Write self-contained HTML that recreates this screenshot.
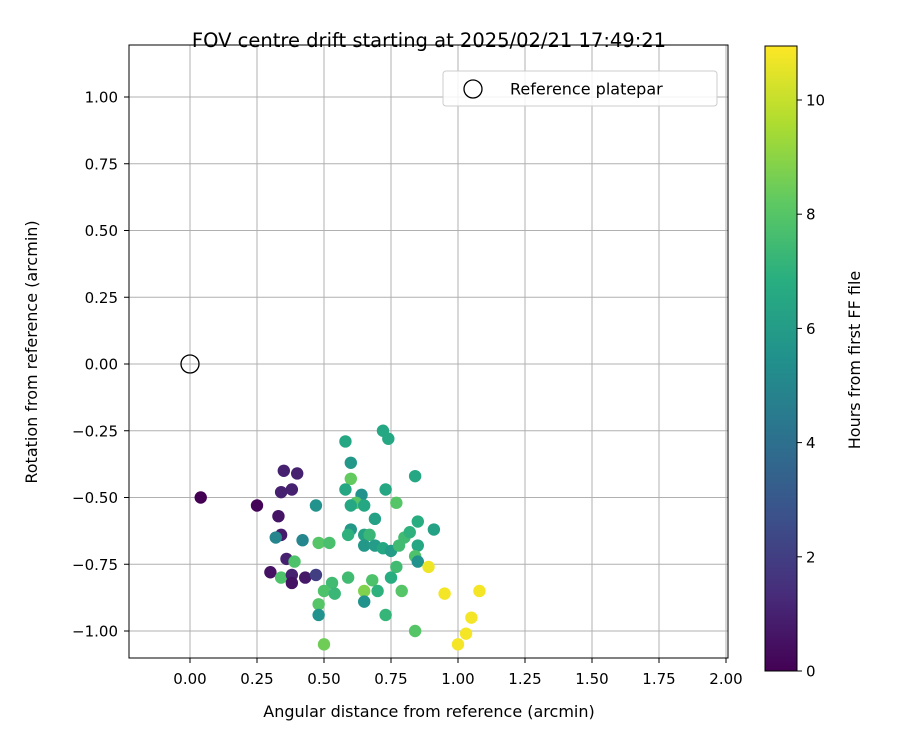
<!DOCTYPE html>
<html><head><meta charset="utf-8"><style>
body{margin:0;background:#fff;font-family:"Liberation Sans","DejaVu Sans",sans-serif}
</style></head><body>
<svg width="900" height="750" xmlns="http://www.w3.org/2000/svg" font-family="'DejaVu Sans','Liberation Sans',sans-serif">
<defs>
<linearGradient id="vir" x1="0" y1="1" x2="0" y2="0">
<stop offset="0" stop-color="#440154"/><stop offset="0.125" stop-color="#472d7b"/><stop offset="0.25" stop-color="#3b528b"/><stop offset="0.375" stop-color="#2c728e"/><stop offset="0.5" stop-color="#21918c"/><stop offset="0.625" stop-color="#28ae80"/><stop offset="0.75" stop-color="#5ec962"/><stop offset="0.875" stop-color="#addc30"/><stop offset="1" stop-color="#fde725"/>
</linearGradient>
</defs>
<g id="grid"></g>
<g id="pts"></g>
<rect x="129" y="45" width="599" height="613" fill="none" stroke="#000" stroke-width="1"/>
<g id="ticks"></g>
<text x="429" y="47" font-size="19.5" text-anchor="middle">FOV centre drift starting at 2025/02/21 17:49:21</text>
<text x="429" y="717" font-size="16" text-anchor="middle">Angular distance from reference (arcmin)</text>
<text transform="translate(37,352) rotate(-90)" font-size="16" text-anchor="middle">Rotation from reference (arcmin)</text>
<g>
<rect x="443" y="71" width="274" height="35" rx="3" fill="#fff" fill-opacity="0.85" stroke="#ccc"/>
<circle cx="473" cy="89" r="9" fill="none" stroke="#000" stroke-width="1.3"/>
<text x="510" y="94.5" font-size="16">Reference platepar</text>
</g>
<rect x="765" y="46" width="32" height="625" fill="url(#vir)" stroke="#000" stroke-width="1"/>
<g id="cbt"></g>
<text transform="translate(860,360) rotate(-90)" font-size="16" text-anchor="middle">Hours from first FF file</text>
</svg>
<script>
const xs=[0.04,0.25,0.35,0.40,0.34,0.38,0.33,0.34,0.32,0.47,0.42,0.48,0.52,0.36,0.39,0.30,0.34,0.38,0.38,0.43,0.47,0.53,0.50,0.54,0.48,0.48,0.50,0.58,0.60,0.60,0.58,0.64,0.62,0.65,0.60,0.72,0.74,0.73,0.77,0.84,0.69,0.85,0.91,0.60,0.59,0.65,0.67,0.65,0.69,0.72,0.75,0.78,0.80,0.82,0.85,0.84,0.85,0.89,0.77,0.75,0.59,0.68,0.70,0.65,0.65,0.79,0.73,0.84,0.95,1.08,1.05,1.03,1.00];
const ys=[-0.50,-0.53,-0.40,-0.41,-0.48,-0.47,-0.57,-0.64,-0.65,-0.53,-0.66,-0.67,-0.67,-0.73,-0.74,-0.78,-0.80,-0.79,-0.82,-0.80,-0.79,-0.82,-0.85,-0.86,-0.90,-0.94,-1.05,-0.29,-0.37,-0.43,-0.47,-0.49,-0.52,-0.53,-0.53,-0.25,-0.28,-0.47,-0.52,-0.42,-0.58,-0.59,-0.62,-0.62,-0.64,-0.64,-0.64,-0.68,-0.68,-0.69,-0.70,-0.68,-0.65,-0.63,-0.68,-0.72,-0.74,-0.76,-0.76,-0.80,-0.80,-0.81,-0.85,-0.85,-0.89,-0.85,-0.94,-1.00,-0.86,-0.85,-0.95,-1.01,-1.05];
const hours=[0,0.1,1,1,1,1,0.6,0.8,5,5.5,5,8,7.7,1,7.8,0.5,7.8,1,0.5,0.7,2,7.5,7.8,7.3,8,5.5,8.5,6.5,5.8,8.3,6.5,5.5,8,6.5,6.5,6.5,6.5,6.5,8,6.5,6.3,6.8,6.3,5.8,7,6.3,7.3,5.8,6,6.5,6,7.5,7.5,7,6.5,7.8,5.5,10.7,7.5,6.8,7.5,7.8,7,8.8,5.5,8,7.2,8,10.8,10.8,10.8,10.8,10.8];
const xTicks=[0,0.25,0.5,0.75,1,1.25,1.5,1.75,2];
const yTicks=[1,0.75,0.5,0.25,0,-0.25,-0.5,-0.75,-1];
const cbTicks=[0,2,4,6,8,10];
const NS="http://www.w3.org/2000/svg";
const X=v=>190+v*268, Y=v=>364-v*267, C=v=>671-v*57.1;
const stops=["#440154","#472d7b","#3b528b","#2c728e","#21918c","#28ae80","#5ec962","#addc30","#fde725"];
function hex(h){return [1,3,5].map(i=>parseInt(h.substr(i,2),16));}
function vir(t){t=Math.max(0,Math.min(1,t))*8;const i=Math.min(7,Math.floor(t)),f=t-i;const a=hex(stops[i]),b=hex(stops[i+1]);return `rgb(${a.map((v,k)=>Math.round(v+(b[k]-v)*f)).join(',')})`;}
function mk(tag,at,parent){const e=document.createElementNS(NS,tag);for(const k in at)e.setAttribute(k,at[k]);parent.appendChild(e);return e;}
const g=document.getElementById('grid'),tk=document.getElementById('ticks'),p=document.getElementById('pts'),cb=document.getElementById('cbt');
xTicks.forEach(v=>{const l=mk('line',{x1:X(v),x2:X(v),y1:45,y2:658,stroke:'#b0b0b0','stroke-width':1},g);

const t=mk('line',{x1:X(v),x2:X(v),y1:658,y2:663,stroke:'#000'},tk);
const s=mk('text',{x:X(v),y:684,'font-size':15,'text-anchor':'middle'},tk);s.textContent=v.toFixed(2);
});
yTicks.forEach(v=>{const l=mk('line',{x1:129,x2:728,y1:Y(v),y2:Y(v),stroke:'#b0b0b0','stroke-width':1},g);

const t=mk('line',{x1:124,x2:129,y1:Y(v),y2:Y(v),stroke:'#000'},tk);
const s=mk('text',{x:118,y:Y(v)+5.5,'font-size':15,'text-anchor':'end'},tk);s.textContent=(v<0?'\u2212':'')+Math.abs(v).toFixed(2);
});
xs.forEach((v,i)=>{const c=mk('circle',{cx:X(v),cy:Y(ys[i]),r:6.2,fill:vir(hours[i]/10.95)},p);
});
const ref=mk('circle',{cx:X(0),cy:Y(0),r:9,fill:'none',stroke:'#000','stroke-width':1.3},p);

cbTicks.forEach(v=>{const t=mk('line',{x1:797,x2:802,y1:C(v),y2:C(v),stroke:'#000'},cb);
const s=mk('text',{x:806,y:C(v)+5.5,'font-size':15},cb);s.textContent=v;
});
</script>
</body></html>
